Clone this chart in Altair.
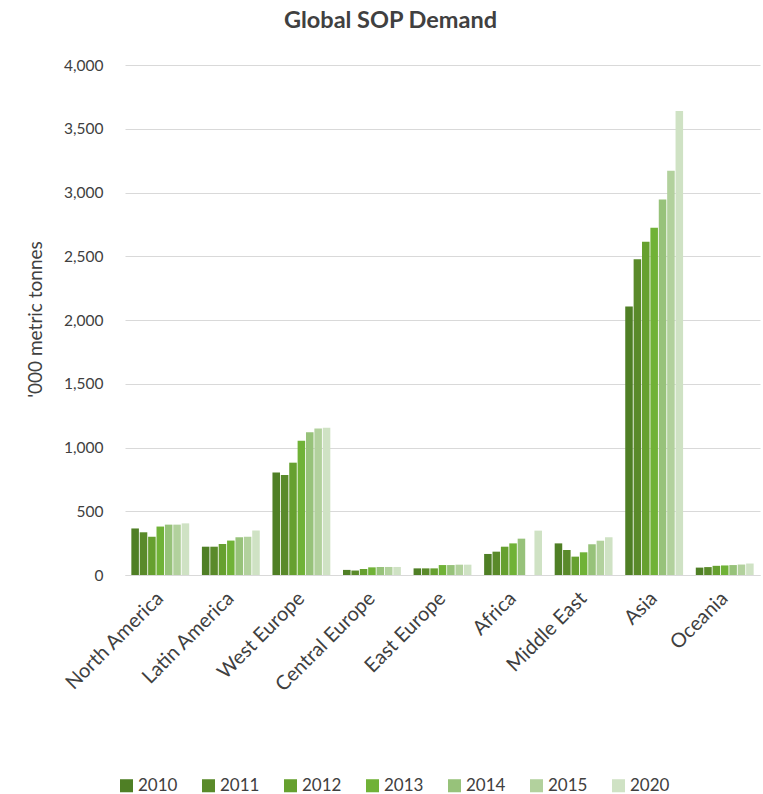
import altair as alt
import pandas as pd

regions = ["North America", "Latin America", "West Europe", "Central Europe",
           "East Europe", "Africa", "Middle East", "Asia", "Oceania"]
years = ["2010", "2011", "2012", "2013", "2014", "2015", "2020"]

# '000 metric tonnes, one list per year in region order
v2010 = [365, 222, 803, 40, 52, 165, 248, 2105, 58]
v2011 = [335, 222, 784, 35, 52, 183, 196, 2476, 62]
v2012 = [300, 243, 881, 47, 52, 222, 144, 2614, 72]
v2013 = [380, 270, 1053, 60, 78, 248, 178, 2724, 75]
v2014 = [395, 296, 1119, 63, 78, 285, 241, 2946, 78]
v2015 = [395, 300, 1150, 63, 81, None, 269, 3171, 82]
v2020 = [405, 350, 1155, 63, 81, 348, 296, 3639, 90]

colors = ["#4f7f25", "#5a8a2a", "#66a02f", "#70b237", "#97c27a", "#b2d19d", "#cfe2c4"]

series = [v2010, v2011, v2012, v2013, v2014, v2015, v2020]
rows = []
for year, vals in zip(years, series):
    for region, v in zip(regions, vals):
        rows.append({"region": region, "year": year, "value": v})
df = pd.DataFrame(rows)

FONT = "Lato"
TEXT = "#404040"

chart = alt.Chart(df).mark_bar().encode(
    x=alt.X("region:N", sort=regions,
            scale=alt.Scale(paddingInner=0.18, paddingOuter=0.09),
            axis=alt.Axis(title=None, labelAngle=-45, labelAlign="right",
                          labelBaseline="middle", labelPadding=20,
                          labelFontSize=20, labelColor=TEXT, labelFont=FONT,
                          ticks=False, domainColor="#d9d9d9", domainWidth=1.2)),
    xOffset=alt.XOffset("year:N", sort=years, scale=alt.Scale(paddingInner=0.1)),
    y=alt.Y("value:Q",
            scale=alt.Scale(domain=[0, 4000], nice=False),
            axis=alt.Axis(title="'000 metric tonnes", values=list(range(0, 4001, 500)),
                          format=",.0f", labelFontSize=15.5, labelColor=TEXT, labelFont=FONT,
                          labelPadding=22, ticks=False, domain=False,
                          gridColor="#d9d9d9", gridWidth=1.2,
                          titleFontSize=19, titleFontWeight="normal", titleColor=TEXT,
                          titleFont=FONT, titleX=-80, titleY=254)),
    color=alt.Color("year:N", sort=years,
                    scale=alt.Scale(domain=years, range=colors),
                    legend=alt.Legend(title=None, orient="none", direction="horizontal",
                                      legendX=-7, legendY=712, columns=7,
                                      symbolType="square", symbolSize=170,
                                      symbolStrokeWidth=0, labelFontSize=17,
                                      labelFont=FONT, labelColor=TEXT,
                                      labelOffset=3, columnPadding=22)),
).properties(
    width=635,
    height=510,
    title=alt.TitleParams("Global SOP Demand", font=FONT, fontSize=23.5,
                          fontWeight="bold", color=TEXT, anchor="middle",
                          dx=-52, offset=26),
    autosize=alt.AutoSizeParams(type="none"),
    padding={"left": 125, "top": 65, "right": 3, "bottom": 219},
).configure_view(stroke=None)

chart.save("out.html", embed_options={"renderer": "svg", "actions": False})
